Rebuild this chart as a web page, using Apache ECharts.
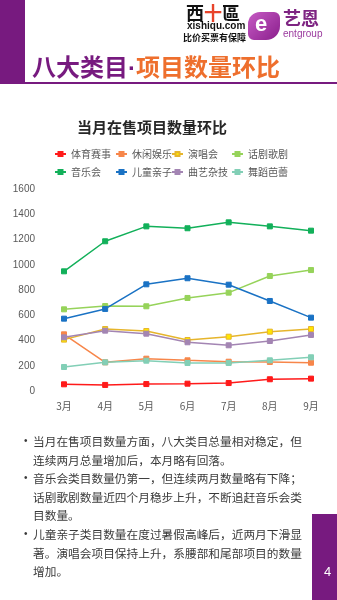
<!DOCTYPE html>
<html>
<head>
<meta charset="utf-8">
<script src="https://cdn.jsdelivr.net/npm/echarts@6/dist/echarts.min.js"></script>
<style>
html,body{margin:0;padding:0;width:337px;height:600px;overflow:hidden;background:#fff;font-family:"Noto Sans CJK SC","Noto Sans",sans-serif;}
#chart{position:absolute;left:0;top:0;width:337px;height:600px;}
.abs{position:absolute;white-space:nowrap;}
#bar{position:absolute;left:0;top:0;width:25px;height:83px;background:#771A7F;}
#hline{position:absolute;left:0;top:82px;width:337px;height:2px;background:#771A7F;}
#pbox{position:absolute;left:312px;top:514px;width:25px;height:86px;background:#771A7F;}
#bullets{position:absolute;left:33px;top:432px;width:290px;font-size:11.7px;line-height:18.6px;color:#3A3A3A;}
#bullets div{position:relative;}
#bullets div:before{content:"•";position:absolute;left:-9px;top:0;font-size:10px;font-family:'Liberation Sans';}
</style>
</head>
<body>
<div id="chart"></div>
<div id="bar"></div>
<div id="hline"></div>
<div class="abs" style="left:32px;top:52px;font-size:24px;font-weight:bold;line-height:28px;"><span style="color:#771A7F">八大类目<span style="font-family:'Liberation Sans'">·</span></span><span style="color:#EE6F2D">项目数量环比</span></div>
<div class="abs" style="left:186px;top:1px;font-size:18px;font-weight:bold;line-height:22px;color:#111;font-family:'Noto Sans CJK TC';">西<span style="color:#E8432A">十</span>區</div>
<div class="abs" style="left:187px;top:20px;font-size:10px;font-weight:bold;line-height:12px;color:#111;font-family:'Liberation Sans';">xishiqu.com</div>
<div class="abs" style="left:183px;top:32px;font-size:9px;font-weight:bold;line-height:11px;color:#111;">比价买票有保障</div>
<div class="abs" style="left:248px;top:12px;width:32px;height:28px;border-radius:12px 6px 14px 6px;background:linear-gradient(135deg,#C65BC4,#8A1E8C);"></div>
<div class="abs" style="left:255px;top:10px;font-size:22px;font-weight:bold;line-height:28px;color:#fff;font-family:'Liberation Sans';">e</div>
<div class="abs" style="left:283px;top:6px;font-size:18px;font-weight:bold;line-height:22px;color:#7E2482;">艺恩</div>
<div class="abs" style="left:283px;top:28px;font-size:10px;line-height:12px;color:#9B3A9E;font-family:'Liberation Sans';">entgroup</div>
<div id="bullets">
<div>当月在售项目数量方面，八大类目总量相对稳定，但<br>连续两月总量增加后，本月略有回落。</div>
<div>音乐会类目数量仍第一，但连续两月数量略有下降；<br>话剧歌剧数量近四个月稳步上升，不断追赶音乐会类<br>目数量。</div>
<div>儿童亲子类目数量在度过暑假高峰后，近两月下滑显<br>著。演唱会项目保持上升，系腰部和尾部项目的数量<br>增加。</div>
</div>
<div id="pbox"></div>
<div class="abs" style="left:324px;top:564px;font-size:13px;line-height:16px;color:#fff;font-family:'Liberation Sans';">4</div>
<script>
var months = ['3月','4月','5月','6月','7月','8月','9月'];
var yTicks = [0,200,400,600,800,1000,1200,1400,1600];
var sports   = [53, 48, 55, 58, 63, 93, 98];      // 体育赛事
var leisure  = [449, 227, 256, 243, 232, 230, 224]; // 休闲娱乐
var concert  = [407, 491, 475, 404, 430, 470, 491]; // 演唱会
var drama    = [647, 673, 671, 737, 779, 911, 958]; // 话剧歌剧
var music    = [948, 1186, 1304, 1289, 1336, 1304, 1270]; // 音乐会
var kids     = [573, 650, 845, 893, 842, 713, 581]; // 儿童亲子
var quyi     = [425, 478, 454, 386, 362, 396, 444]; // 曲艺杂技
var dance    = [190, 227, 240, 222, 222, 243, 267]; // 舞蹈芭蕾

var names = ['体育赛事','休闲娱乐','演唱会','话剧歌剧','音乐会','儿童亲子','曲艺杂技','舞蹈芭蕾'];
var datas = [sports, leisure, concert, drama, music, kids, quyi, dance];
var lineColors = ['#FF1A1A','#F7864A','#E6B52C','#96D35A','#12B05A','#1A72C4','#A385B3','#82CFB6'];
var fillColors = ['#FF1A1A','#F7864A','#FFE600','#96D35A','#12B05A','#1A72C4','#A385B3','#82CFB6'];

var chart = echarts.init(document.getElementById('chart'), null, {renderer:'canvas'});
var series = names.map(function(n,i){
  return {
    name:n, type:'line', data:datas[i],
    symbol:'rect', symbolSize:5, showSymbol:true,
    lineStyle:{width:1.5, color:lineColors[i]},
    itemStyle:{color:fillColors[i], borderColor:lineColors[i], borderWidth:1},
    emphasis:{disabled:true},
    z: (i===4||i===5||i===3)?3:2
  };
});
var colLeft = [54, 115, 171, 231];
var legends = colLeft.map(function(l,c){
  return {
    orient:'vertical', left:l, top:148, padding:0, itemWidth:11, itemHeight:5, itemGap:6,
    data:[names[c], names[c+4]],
    textStyle:{fontSize:10, color:'#595959', lineHeight:12, fontFamily:'Noto Sans CJK SC'},
    selectedMode:false
  };
});
chart.setOption({
  animation:false,
  title:{text:'当月在售项目数量环比', left:77, top:120, padding:0,
    textStyle:{fontSize:15, fontWeight:'bold', color:'#262626', fontFamily:'Noto Sans CJK SC'}},
  legend:legends,
  grid:{left:64, right:26, top:189, bottom:209, containLabel:false},
  xAxis:{type:'category', data:months, boundaryGap:false,
    axisLine:{show:false}, axisTick:{show:false},
    axisLabel:{margin:10, fontSize:10, color:'#595959', fontFamily:'Noto Sans CJK SC'}},
  yAxis:{type:'value', min:yTicks[0], max:yTicks[yTicks.length-1], interval:200,
    splitLine:{show:false}, axisLine:{show:false}, axisTick:{show:false},
    axisLabel:{margin:29, fontSize:10, color:'#595959', fontFamily:'Liberation Sans',
      formatter:function(v){return String(v);}}},
  series:series
});
</script>
</body>
</html>
